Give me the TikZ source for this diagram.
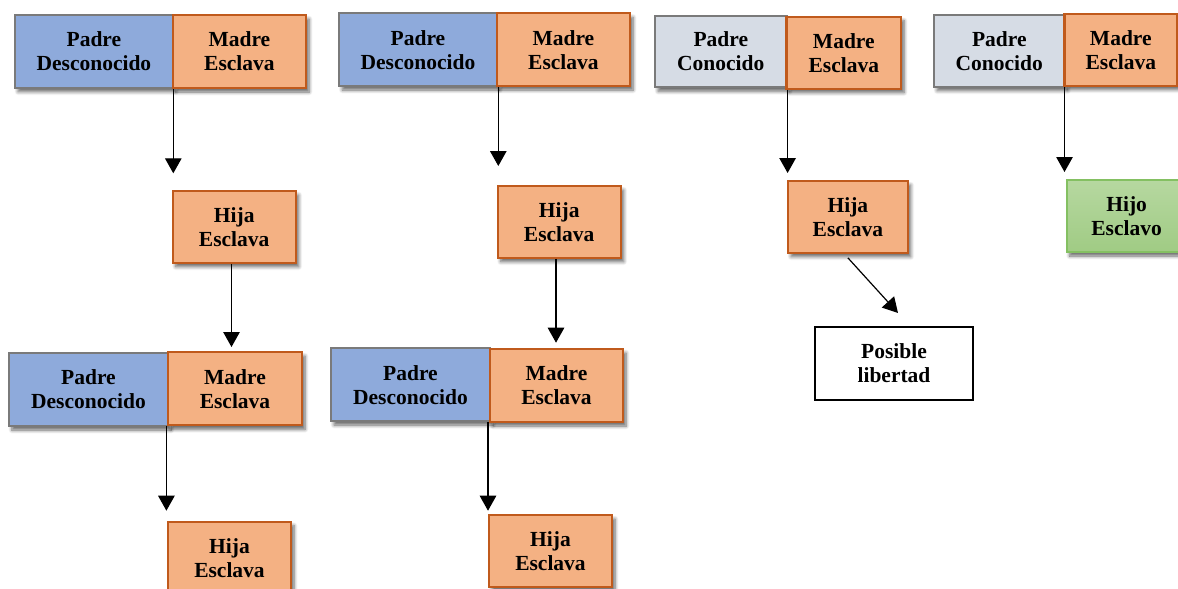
\documentclass[tikz,border=0pt]{standalone}
\usepackage{fontspec}
\setmainfont{Liberation Serif}
\usetikzlibrary{arrows.meta,shadows.blur,calc}
\definecolor{pblue}{HTML}{8EAADB}
\definecolor{pgrayb}{HTML}{7A7A7A}
\definecolor{porange}{HTML}{F4B183}
\definecolor{porangeb}{HTML}{C05A1C}
\definecolor{plight}{HTML}{D6DCE5}
\definecolor{pgreentop}{HTML}{B6D8A0}
\definecolor{pgreenbot}{HTML}{A0CB84}
\definecolor{pgreenb}{HTML}{84C062}
\begin{document}
\begin{tikzpicture}[x=1pt,y=-1pt,
  box/.style={draw, line width=2.2pt, align=center, inner sep=0pt,
    font=\fontsize{21.5}{24}\selectfont\bfseries},
  shad/.style={blur shadow={shadow xshift=3pt, shadow yshift=-4pt,
    shadow blur radius=3.5pt, shadow blur steps=6, shadow opacity=60}},
  padred/.style={box, shad, fill=pblue, draw=pgrayb},
  padrec/.style={box, shad, fill=plight, draw=pgrayb},
  madre/.style={box, shad, fill=porange, draw=porangeb},
  hijo/.style={box, shad, top color=pgreentop, bottom color=pgreenbot, draw=pgreenb},
  libre/.style={box, fill=white, draw=black},
  arr/.style={line width=1.2pt, -{Triangle[width=16.5pt,length=15pt]}}]
\useasboundingbox (0,0) rectangle (1178,589);
\clip (0,0) rectangle (1178,589);

% ---------- group 1 ----------
\node[padred, minimum width=157.7pt, minimum height=72.7pt] (pd1) at (93.9,51.4) {Padre\\Desconocido};
\node[madre, minimum width=133.3pt, minimum height=73pt] (me1) at (239.4,51.5) {Madre\\Esclava};
\node[madre, minimum width=123pt, minimum height=71.7pt] (hi1) at (234.2,226.9) {Hija\\Esclava};
\node[padred, minimum width=159pt, minimum height=73.3pt] (pd1b) at (88.5,389.4) {Padre\\Desconocido};
\node[madre, minimum width=134pt, minimum height=73.3pt] (me1b) at (235,388.7) {Madre\\Esclava};
\node[madre, minimum width=123pt, minimum height=72pt] (hi1b) at (229.5,557.7) {Hija\\Esclava};
\coordinate (t1) at (173.3,173.3);
\coordinate (t2) at (231.5,347);
\coordinate (t3) at (166.4,510.7);
\draw[arr] (me1.south west -| t1) -- (t1);
\draw[arr] (hi1.south -| t2) -- (t2);
\draw[arr] (me1b.south west -| t3) -- (t3);

% ---------- group 2 ----------
\node[padred, minimum width=157.4pt, minimum height=72.7pt] (pd2) at (418,49.7) {Padre\\Desconocido};
\node[madre, minimum width=133.3pt, minimum height=72.7pt] (me2) at (563.4,49.7) {Madre\\Esclava};
\node[madre, minimum width=123pt, minimum height=71.7pt] (hi2) at (559.2,221.9) {Hija\\Esclava};
\node[padred, minimum width=159pt, minimum height=72.7pt] (pd2b) at (410.5,384.7) {Padre\\Desconocido};
\node[madre, minimum width=133pt, minimum height=73pt] (me2b) at (556.5,385.5) {Madre\\Esclava};
\node[madre, minimum width=123pt, minimum height=72pt] (hi2b) at (550.5,551) {Hija\\Esclava};
\coordinate (u1) at (498.3,166);
\coordinate (u2) at (556,342.7);
\coordinate (u3) at (488,510.7);
\draw[arr] (me2.south west -| u1) -- (u1);
\draw[arr] (hi2.south -| u2) -- (u2);
\draw[arr] (pd2b.south east -| u3) -- (u3);

% ---------- group 3 ----------
\node[padrec, minimum width=131.5pt, minimum height=71.6pt] (pc3) at (720.8,51.5) {Padre\\Conocido};
\node[madre, minimum width=114.5pt, minimum height=72pt] (me3) at (843.8,52.7) {Madre\\Esclava};
\node[madre, minimum width=119.7pt, minimum height=71.7pt] (hi3) at (847.9,216.9) {Hija\\Esclava};
\node[libre, minimum width=158pt, minimum height=73pt] (pl) at (894,363.5) {Posible\\libertad};
\coordinate (v1) at (787.6,173);
\coordinate (v2) at (898,313);
\draw[arr] (me3.south west -| v1) -- (v1);
\draw[arr] ([yshift=-4pt]hi3.south) -- (v2);

% ---------- group 4 ----------
\node[padrec, minimum width=130.5pt, minimum height=71.7pt] (pc4) at (999.3,50.9) {Padre\\Conocido};
\node[madre, minimum width=112.5pt, minimum height=71.7pt] (me4) at (1120.8,49.9) {Madre\\Esclava};
\node[hijo, minimum width=120pt, minimum height=72pt] (hj4) at (1126.6,216) {Hijo\\Esclavo};
\coordinate (w1) at (1064.5,172);
\draw[arr] (me4.south west -| w1) -- (w1);
\end{tikzpicture}
\end{document}
